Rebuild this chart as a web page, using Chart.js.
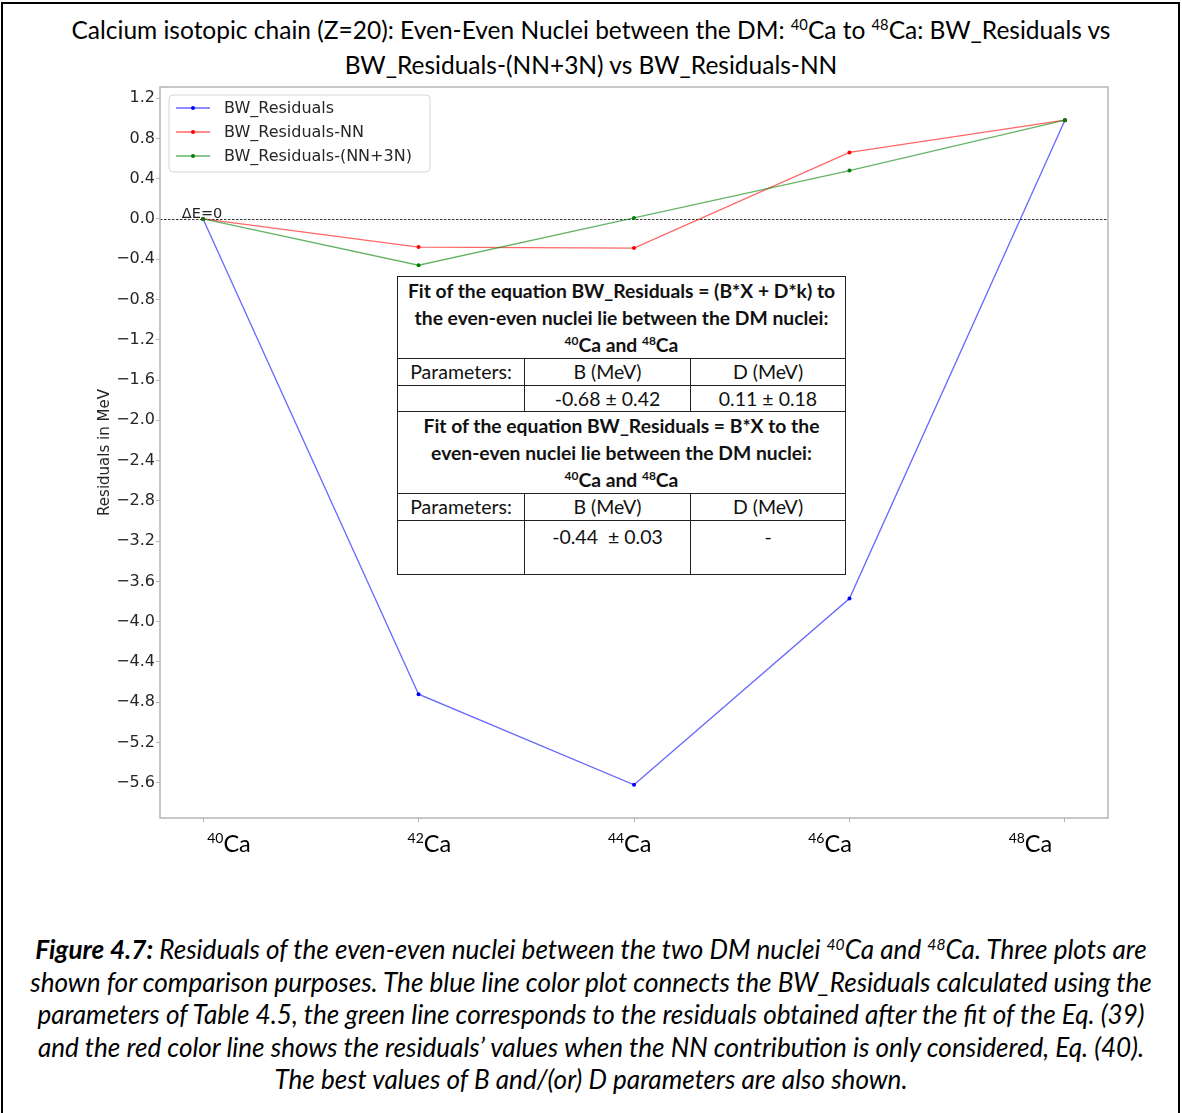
<!DOCTYPE html>
<html><head><meta charset="utf-8">
<script src="https://cdn.jsdelivr.net/npm/chart.js@4/dist/chart.umd.min.js"></script>
<style>
html,body{margin:0;padding:0;background:#fff;}
body{width:1182px;height:1113px;overflow:hidden;position:relative;font-family:Lato,sans-serif;color:#000;}
#frame{position:absolute;left:1px;top:2px;width:1179px;height:1130px;border:2px solid #000;box-sizing:border-box;}
#title{position:absolute;left:0;top:12px;width:1182px;text-align:center;font-size:24.5px;line-height:35px;white-space:nowrap;}
#title sup,#caption sup{font-size:60%;line-height:0;vertical-align:0.6em;}
#wrap{position:absolute;left:0;top:0;width:1182px;height:870px;}
#tbl{position:absolute;left:397px;top:276px;border-collapse:collapse;background:#fff;font-family:Lato,sans-serif;}
#tbl td{border:1.5px solid #222;padding:0;text-align:center;color:#111;white-space:nowrap;}
#tbl td.h{font-weight:bold;font-size:19.3px;line-height:27px;vertical-align:middle;}
#tbl td.r{font-size:19.5px;line-height:24px;}
#tbl sup{font-size:62%;line-height:0;vertical-align:0.55em;}
#caption{position:absolute;left:0;top:933px;width:1182px;text-align:center;font-size:26.1px;line-height:32.5px;font-style:italic;white-space:nowrap;}
</style></head>
<body>
<div id="frame"></div>
<div id="title">Calcium isotopic chain (Z=20): Even-Even Nuclei between the DM: <sup>40</sup>Ca to <sup>48</sup>Ca: BW_Residuals vs<br>BW_Residuals-(NN+3N) vs BW_Residuals-NN</div>
<div id="wrap"><canvas id="c" width="1182" height="870"></canvas></div>
<table id="tbl">
<tr><td class="h" colspan="3" style="height:81px;width:446px">Fit of the equation BW_Residuals = (B*X + D*k) to<br>the even-even nuclei lie between the DM nuclei:<br><sup>40</sup>Ca and <sup>48</sup>Ca</td></tr>
<tr><td class="r" style="height:26px;width:126px">Parameters:</td><td class="r" style="width:165px">B (MeV)</td><td class="r" style="width:154px">D (MeV)</td></tr>
<tr><td class="r" style="height:25px"></td><td class="r">-0.68 ± 0.42</td><td class="r">0.11 ± 0.18</td></tr>
<tr><td class="h" colspan="3" style="height:80px">Fit of the equation BW_Residuals = B*X to the<br>even-even nuclei lie between the DM nuclei:<br><sup>40</sup>Ca and <sup>48</sup>Ca</td></tr>
<tr><td class="r" style="height:26px">Parameters:</td><td class="r">B (MeV)</td><td class="r">D (MeV)</td></tr>
<tr><td class="r" style="height:53px;vertical-align:top"></td><td class="r" style="vertical-align:top;padding-top:4px">-0.44 &nbsp;± 0.03</td><td class="r" style="vertical-align:top;padding-top:4px">-</td></tr>
</table>
<div id="caption"><b>Figure 4.7:</b> Residuals of the even-even nuclei between the two DM nuclei <sup>40</sup>Ca and <sup>48</sup>Ca. Three plots are<br>shown for comparison purposes. The blue line color plot connects the BW_Residuals calculated using the<br>parameters of Table 4.5, the green line corresponds to the residuals obtained after the fit of the Eq. (39)<br>and the red color line shows the residuals’ values when the NN contribution is only considered, Eq. (40).<br>The best values of B and/(or) D parameters are also shown.</div>
<script>
// ---- data ----
const massNumbers = ['40', '42', '44', '46', '48'];
const elementSymbol = 'Ca';
const seriesNames = ['BW_Residuals', 'BW_Residuals-NN', 'BW_Residuals-(NN+3N)'];
const bwResiduals = [0.0, -4.72, -5.62, -3.77, 0.98];
const bwResidualsNN = [0.0, -0.28, -0.29, 0.66, 0.98];
const bwResidualsNN3N = [0.0, -0.46, 0.01, 0.48, 0.98];
const yTickValues = [1.2, 0.8, 0.4, 0.0, -0.4, -0.8, -1.2, -1.6, -2.0, -2.4, -2.8, -3.2, -3.6, -4.0, -4.4, -4.8, -5.2, -5.6];
const yAxisTitle = 'Residuals in MeV';
const zeroLabel = 'ΔE=0';

const toPts = arr => arr.map((v, i) => ({x: i, y: v}));
const lineColors = ['rgba(0,0,255,0.6)', 'rgba(255,0,0,0.6)', 'rgba(0,128,0,0.6)'];
const markColors = ['#0000ff', '#ff0000', '#008000'];
const seriesData = [bwResiduals, bwResidualsNN, bwResidualsNN3N];

const TICK_FONT = '16px "DejaVu Sans"';
const GRAY = '#b5b5b5';

const decor = {
  id: 'decor',
  beforeDatasetsDraw(chart) {
    const {ctx, chartArea: a, scales: {y}} = chart;
    const y0 = Math.round(y.getPixelForValue(0)) + 0.5;
    ctx.save();
    ctx.strokeStyle = '#333';
    ctx.lineWidth = 1;
    ctx.setLineDash([2.5, 1.5]);
    ctx.beginPath(); ctx.moveTo(a.left, y0); ctx.lineTo(a.right, y0); ctx.stroke();
    ctx.restore();
  },
  afterDraw(chart) {
    const {ctx, chartArea: a, scales: {x, y, xl}} = chart;
    ctx.save();
    ctx.strokeStyle = GRAY; ctx.lineWidth = 1.5;
    ctx.strokeRect(a.left, a.top, a.right - a.left, a.bottom - a.top);
    ctx.fillStyle = '#222';
    ctx.font = '14.5px "DejaVu Sans"';
    ctx.textAlign = 'center'; ctx.textBaseline = 'alphabetic';
    ctx.fillText(zeroLabel, x.getPixelForValue(0) - 1, y.getPixelForValue(0) - 0.5);
    massNumbers.forEach((m, i) => {
      const cx = xl.getPixelForValue(i);
      ctx.font = '14px Lato';
      const wm = ctx.measureText(m).width;
      ctx.font = '23.5px Lato';
      const ws = ctx.measureText(elementSymbol).width;
      const left = cx - (wm + ws) / 2;
      const base = a.bottom + 34;
      ctx.textAlign = 'left';
      ctx.fillStyle = '#000';
      ctx.font = '14px Lato';
      ctx.fillText(m, left, base - 9);
      ctx.font = '23.5px Lato';
      ctx.fillText(elementSymbol, left + wm, base);
    });
    const lx = a.left + 9, ly = a.top + 8, lw = 261, lh = 77;
    ctx.beginPath();
    ctx.roundRect(lx, ly, lw, lh, 4);
    ctx.fillStyle = 'rgba(255,255,255,0.85)'; ctx.fill();
    ctx.strokeStyle = '#d6d6d6'; ctx.lineWidth = 1; ctx.stroke();
    chart.data.datasets.forEach((ds, i) => {
      const ry = ly + 13 + i * 24;
      ctx.strokeStyle = ds.borderColor; ctx.lineWidth = 1.3;
      ctx.beginPath(); ctx.moveTo(lx + 7, ry); ctx.lineTo(lx + 41, ry); ctx.stroke();
      ctx.fillStyle = ds.pointBackgroundColor;
      ctx.beginPath(); ctx.arc(lx + 24, ry, 2, 0, Math.PI * 2); ctx.fill();
      ctx.fillStyle = '#262626'; ctx.font = TICK_FONT;
      ctx.textAlign = 'left'; ctx.textBaseline = 'middle';
      ctx.fillText(ds.label, lx + 55, ry + 1);
    });
    ctx.restore();
  }
};

new Chart(document.getElementById('c'), {
  type: 'line',
  data: {
    datasets: seriesNames.map((n, k) => ({
      label: n,
      data: toPts(seriesData[k]),
      borderColor: lineColors[k],
      backgroundColor: markColors[k],
      pointBackgroundColor: markColors[k],
      pointBorderColor: markColors[k],
      pointRadius: 2, pointBorderWidth: 0,
      borderWidth: 1.3, tension: 0, fill: false,
      order: 3 - k
    }))
  },
  options: {
    responsive: false, animation: false,
    layout: {padding: {left: 96, right: 74, top: 87, bottom: 0}},
    plugins: {legend: {display: false}, tooltip: {enabled: false}},
    scales: {
      x: {
        type: 'linear', min: -0.2, max: 4.2,
        afterBuildTicks: s => { s.ticks = massNumbers.map((m, i) => ({value: i})); },
        afterFit: s => { s.height = 52; },
        ticks: {display: false},
        grid: {drawOnChartArea: false, drawTicks: true, tickLength: 4, color: GRAY, lineWidth: 1},
        border: {display: false}
      },
      xl: {
        type: 'linear', display: false, position: 'bottom',
        min: (-0.2 - 0.12) / 0.93, max: (4.2 - 0.12) / 0.93
      },
      y: {
        type: 'linear', min: -5.95, max: 1.31,
        afterBuildTicks: s => { s.ticks = yTickValues.map(v => ({value: v})); },
        afterFit: s => { s.width = 64; },
        ticks: {
          font: {family: 'DejaVu Sans', size: 16}, color: '#262626', padding: 1,
          callback: v => (v < 0 ? '\u2212' : '') + Math.abs(v).toFixed(1)
        },
        grid: {drawOnChartArea: false, drawTicks: true, tickLength: 4, color: GRAY, lineWidth: 1},
        border: {display: false},
        title: {display: true, text: yAxisTitle, font: {family: 'DejaVu Sans', size: 15}, color: '#262626', padding: 0}
      }
    }
  },
  plugins: [decor]
});
</script>
</body></html>
